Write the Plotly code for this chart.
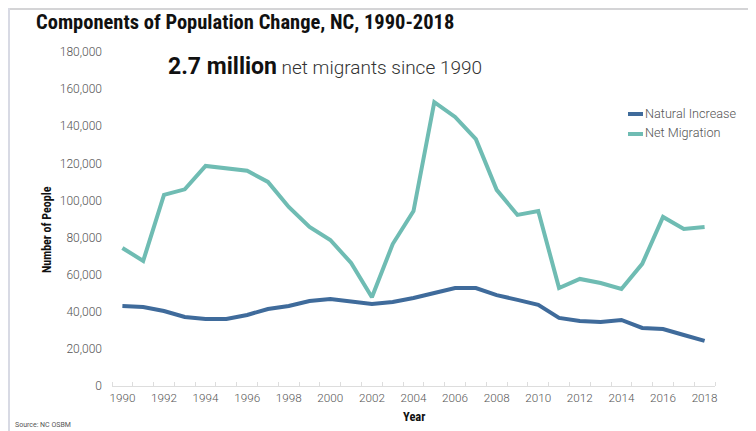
import plotly.graph_objects as go

years = list(range(1990, 2019))
natural_increase = [43100, 42600, 40400, 37200, 36100, 36100, 38300, 41500, 43100, 45800,
                    46900, 45300, 44200, 45300, 47400, 50100, 52800, 52800, 49000, 46400,
                    43700, 36700, 35000, 34500, 35600, 31300, 30700, 27500, 24300]
net_migration = [74400, 67400, 103000, 106000, 118600, 117500, 116000, 110000, 96500, 85700,
                 78700, 66300, 47800, 76500, 94300, 153000, 145000, 133000, 105700, 92200,
                 94300, 52800, 57700, 55500, 52300, 65800, 91100, 84600, 85700]
series_names = ["Natural Increase", "Net Migration"]
colors = ["#3f6b9b", "#6fbcb3"]
year_ticks = list(range(1990, 2019, 2))
y_ticks = list(range(0, 180001, 20000))

OFF = 8  # page body margin
W, H = 756 - OFF, 431 - OFF
# plot area in reference pixel coordinates
RL, RR, RT, RB = 112, 715, 52, 386
L, R, T, B = RL - OFF, RR - OFF, RT - OFF, RB - OFF

def px(x):
    return (x - RL) / (RR - RL)

def py(y):
    return (RB - y) / (RB - RT)

fig = go.Figure()
for name, vals, c in zip(series_names, [natural_increase, net_migration], colors):
    fig.add_trace(go.Scatter(x=years, y=vals, mode="lines", name=name,
                             line=dict(color=c, width=4), showlegend=False))

base_font = dict(family="Roboto, Arial, sans-serif", color="#555555")

fig.update_layout(
    width=W, height=H,
    margin=dict(l=L, r=W - R, t=T, b=H - B),
    paper_bgcolor="white", plot_bgcolor="white",
    font=base_font,
    xaxis=dict(range=[1989.5, 2018.5], tickvals=year_ticks, ticktext=[str(y) for y in year_ticks],
               showgrid=False, zeroline=False, showline=True, linecolor="#dddddd", linewidth=1,
               ticks="", tickfont=dict(size=11.7, color="#555555", family="Roboto", weight=300),
               ticklabelstandoff=1,
               minor=dict(tickvals=[y - 0.5 for y in range(1990, 2020)], ticks="inside",
                          ticklen=4, tickcolor="#dddddd", showgrid=False)),
    yaxis=dict(range=[0, 180000], tickvals=y_ticks, tickformat=",", showgrid=False,
               zeroline=False, showline=False, ticks="",
               tickfont=dict(size=12, color="#555555", family="Roboto", weight=300),
               ticklabelstandoff=9),
)

shapes = []
# slide shadow bands (reference pixels 0-10 at top and left)
shapes.append(dict(type="rect", xref="paper", yref="paper", x0=px(OFF), x1=px(756), y0=py(10), y1=py(OFF),
                   fillcolor="#d4d4d6", line=dict(width=0), layer="below"))
shapes.append(dict(type="rect", xref="paper", yref="paper", x0=px(OFF), x1=px(10), y0=py(431), y1=py(OFF),
                   fillcolor="#d8dae4", line=dict(width=0), layer="below"))
# legend swatches
legend_y = [113, 133]
for c, ly in zip(colors, legend_y):
    shapes.append(dict(type="line", xref="paper", yref="paper", x0=px(628), x1=px(643),
                       y0=py(ly + 1), y1=py(ly + 1), line=dict(color=c, width=4)))
fig.update_layout(shapes=shapes)

narrow = "Liberation Sans Narrow, Roboto Condensed, Roboto, sans-serif"
ann = []
ann.append(dict(text="<b>Components of Population Change, NC, 1990-2018</b>", xref="paper", yref="paper",
                x=px(34), y=py(22), xanchor="left", yanchor="middle", showarrow=False,
                font=dict(family=narrow, size=20.5, color="#111111")))
ann.append(dict(text="<span style='font-size:23px;color:#111111'><b>2.7 million</b></span> net migrants since 1990",
                xref="paper", yref="paper", x=px(166), y=py(66), xanchor="left", yanchor="middle",
                showarrow=False, font=dict(family="Roboto", size=19, color="#333333", weight=300)))
ann.append(dict(text="<b>Number of People</b>", xref="paper", yref="paper", x=px(47), y=py(230),
                xanchor="center", yanchor="middle", textangle=-90, showarrow=False,
                font=dict(family=narrow, size=12, color="#111111")))
ann.append(dict(text="<b>Year</b>", xref="paper", yref="paper", x=px(414), y=py(417),
                xanchor="center", yanchor="middle", showarrow=False,
                font=dict(family=narrow, size=12.5, color="#111111")))
for name, ly in zip(series_names, legend_y):
    ann.append(dict(text=name, xref="paper", yref="paper", x=px(643), y=py(ly), xanchor="left",
                    yanchor="middle", showarrow=False,
                    font=dict(family="Roboto", size=12.7, color="#555555", weight=300)))
ann.append(dict(text="Source: NC OSBM", xref="paper", yref="paper", x=px(13), y=py(425),
                xanchor="left", yanchor="middle", showarrow=False,
                font=dict(family="Roboto", size=7, color="#555555")))
fig.update_layout(annotations=ann)

fig.write_html("out.html")
